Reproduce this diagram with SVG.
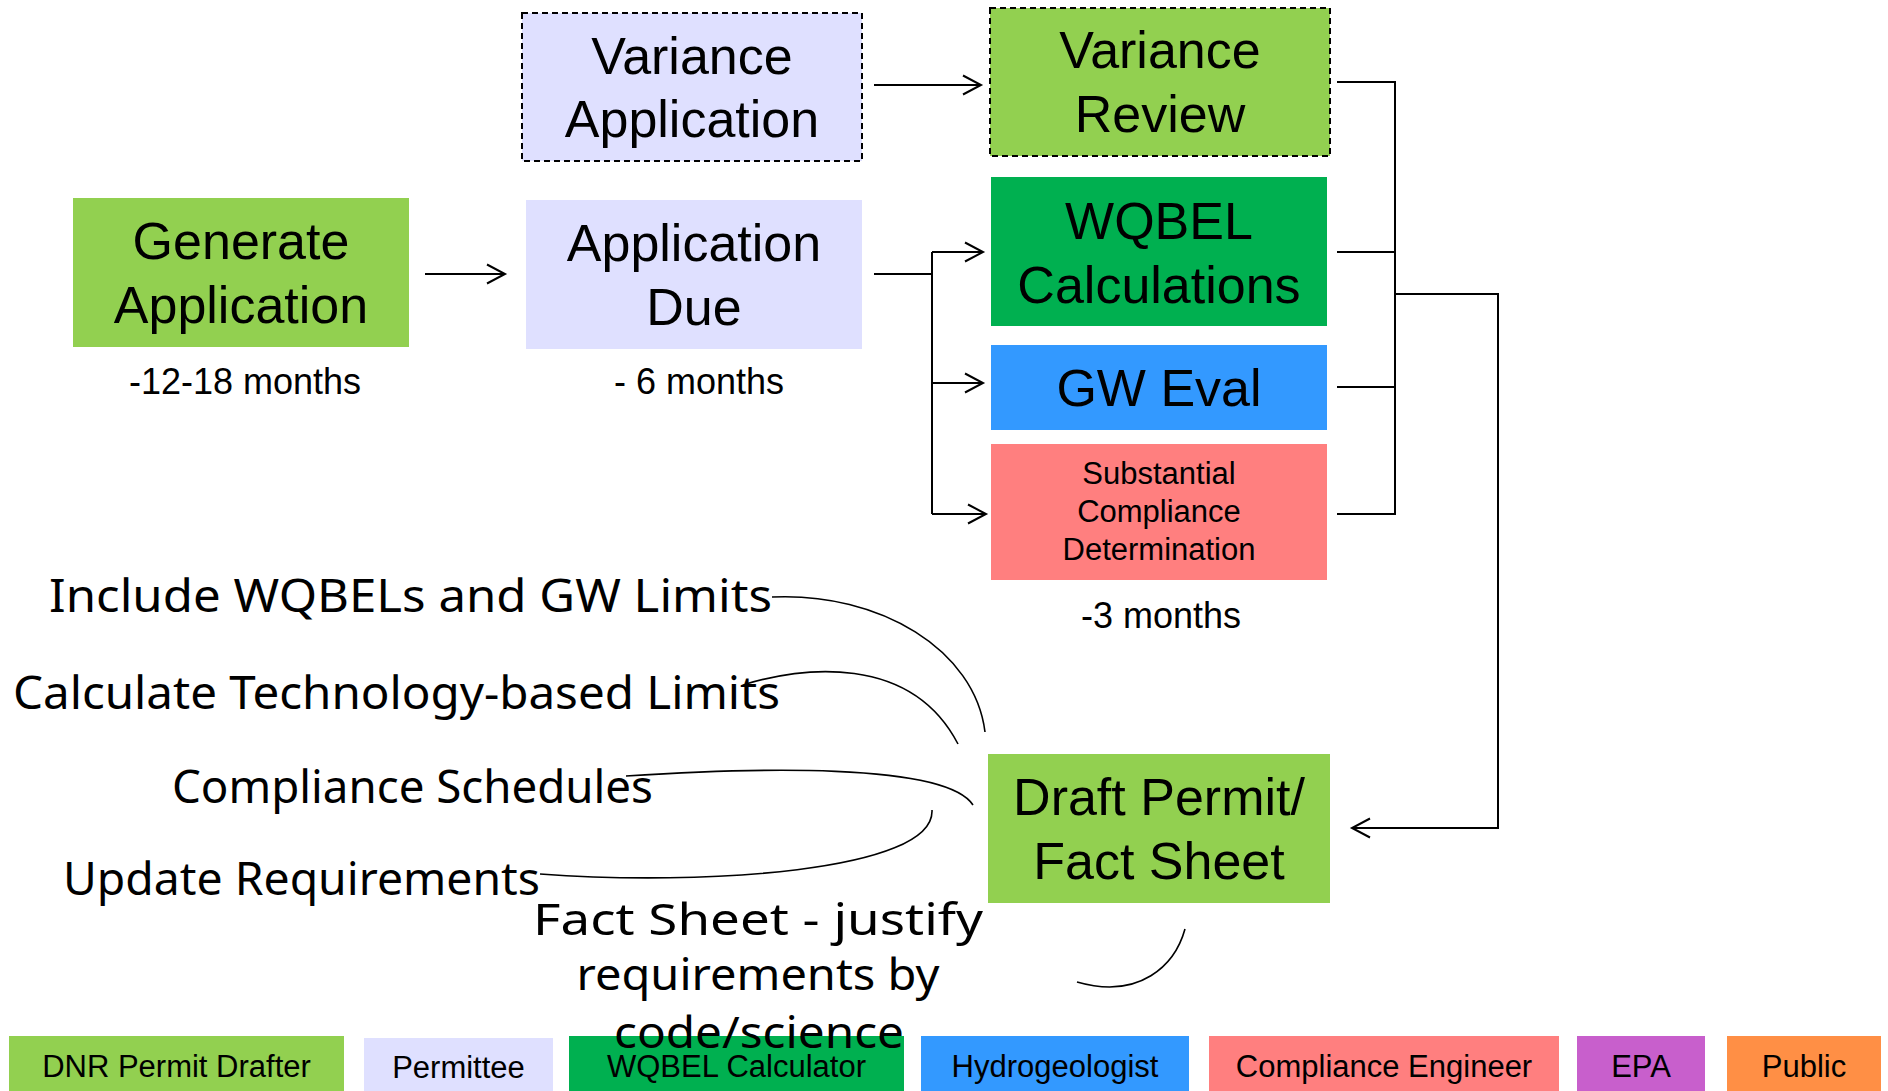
<svg xmlns="http://www.w3.org/2000/svg" width="1888" height="1091" viewBox="0 0 1888 1091">
<defs>
<style>
.box{stroke:none}
.dash{stroke:#000;stroke-width:2;stroke-dasharray:6 4}
.t52{font-family:"Liberation Sans",Arial,sans-serif;font-size:52px;text-anchor:middle;fill:#000}
.t37{font-family:"Liberation Sans",Arial,sans-serif;font-size:36px;text-anchor:middle;fill:#000}
.t31{font-family:"Liberation Sans",Arial,sans-serif;font-size:31px;text-anchor:middle;fill:#000}
.leg{font-family:"Liberation Sans",Arial,sans-serif;font-size:31px;text-anchor:middle;fill:#000}
.hw{font-family:"Comic Sans MS","Noto Sans",sans-serif;font-size:46px;fill:#000}
.hwc{font-family:"Comic Sans MS","Noto Sans",sans-serif;font-size:44px;fill:#000;text-anchor:middle}
.ln{fill:none;stroke:#000;stroke-width:2}
.cv{fill:none;stroke:#000;stroke-width:1.6}
</style>
<marker id="arr" markerUnits="userSpaceOnUse" markerWidth="24" markerHeight="24" refX="20" refY="11" orient="auto">
<path d="M2,1.5 L20,11 L2,20.5" fill="none" stroke="#000" stroke-width="2"/>
</marker>
</defs>
<rect width="1888" height="1091" fill="#fff"/>

<g id="connectors">
<path class="ln" d="M425 274 H505" marker-end="url(#arr)"/>
<path class="ln" d="M874 85 H981" marker-end="url(#arr)"/>
<path class="ln" d="M874 274 H932"/>
<path class="ln" d="M932 252 V514"/>
<path class="ln" d="M932 252 H983" marker-end="url(#arr)"/>
<path class="ln" d="M932 383 H983" marker-end="url(#arr)"/>
<path class="ln" d="M932 514 H986" marker-end="url(#arr)"/>
<path class="ln" d="M1337 82 H1395 M1337 252 H1395 M1337 387 H1395 M1337 514 H1395"/>
<path class="ln" d="M1395 81 V515"/>
<path class="ln" d="M1395 294 H1498 V828 H1352" marker-end="url(#arr)"/>
<path class="cv" d="M772 597 C880 592 975 650 985 732"/>
<path class="cv" d="M746 684 C800 668 910 652 958 744"/>
<path class="cv" d="M626 776 C750 768 945 762 973 805"/>
<path class="cv" d="M540 874 C700 886 935 872 932 810"/>
<path class="cv" d="M1185 929 C1175 965 1140 1000 1077 982"/>
</g>

<g id="variance-application">
<rect x="522" y="13" width="340" height="148" fill="#DFE0FF" class="dash"/>
<text class="t52" x="692" y="74">Variance</text>
<text class="t52" x="692" y="137">Application</text>
</g>

<g id="generate-application">
<rect x="73" y="198" width="336" height="149" fill="#92D050"/>
<text class="t52" x="241" y="259">Generate</text>
<text class="t52" x="241" y="323">Application</text>
<text class="t37" x="245" y="394">-12-18 months</text>
</g>

<g id="application-due">
<rect x="526" y="200" width="336" height="149" fill="#DFE0FF"/>
<text class="t52" x="694" y="261">Application</text>
<text class="t52" x="694" y="325">Due</text>
<text class="t37" x="699" y="394">- 6 months</text>
</g>

<g id="variance-review">
<rect x="990" y="8" width="340" height="148" fill="#92D050" class="dash"/>
<text class="t52" x="1160" y="68">Variance</text>
<text class="t52" x="1160" y="132">Review</text>
</g>

<g id="wqbel-calculations">
<rect x="991" y="177" width="336" height="149" fill="#00B050"/>
<text class="t52" x="1159" y="239">WQBEL</text>
<text class="t52" x="1159" y="303">Calculations</text>
</g>

<g id="gw-eval">
<rect x="991" y="345" width="336" height="85" fill="#3399FF"/>
<text class="t52" x="1159" y="406">GW Eval</text>
</g>

<g id="substantial-compliance">
<rect x="991" y="444" width="336" height="136" fill="#FF7F7F"/>
<text class="t31" x="1159" y="484">Substantial</text>
<text class="t31" x="1159" y="522">Compliance</text>
<text class="t31" x="1159" y="560">Determination</text>
<text class="t37" x="1161" y="628">-3 months</text>
</g>

<g id="draft-permit">
<rect x="988" y="754" width="342" height="149" fill="#92D050"/>
<text class="t52" x="1159" y="815">Draft Permit/</text>
<text class="t52" x="1159" y="879">Fact Sheet</text>
</g>

<g id="legend">
<rect x="9" y="1036" width="335" height="60" fill="#92D050"/>
<text class="leg" x="176.5" y="1077">DNR Permit Drafter</text>
<rect x="364" y="1038" width="189" height="58" fill="#DFE0FF"/>
<text class="leg" x="458.5" y="1078">Permittee</text>
<rect x="569" y="1036" width="335" height="60" fill="#00B050"/>
<text class="leg" x="736.5" y="1077">WQBEL Calculator</text>
<rect x="921" y="1036" width="268" height="60" fill="#3399FF"/>
<text class="leg" x="1055" y="1077">Hydrogeologist</text>
<rect x="1209" y="1036" width="350" height="60" fill="#FF7F7F"/>
<text class="leg" x="1384" y="1077">Compliance Engineer</text>
<rect x="1577" y="1036" width="128" height="60" fill="#C85FCC"/>
<text class="leg" x="1641" y="1077">EPA</text>
<rect x="1727" y="1036" width="154" height="60" fill="#FF8F45"/>
<text class="leg" x="1804" y="1077">Public</text>
</g>

<g id="annotations">
<text class="hw" x="49" y="612" textLength="723" lengthAdjust="spacingAndGlyphs">Include WQBELs and GW Limits</text>
<text class="hw" x="13" y="709" textLength="767" lengthAdjust="spacingAndGlyphs">Calculate Technology-based Limits</text>
<text class="hw" x="172" y="803" textLength="481" lengthAdjust="spacingAndGlyphs">Compliance Schedules</text>
<text class="hw" x="63" y="895" textLength="477" lengthAdjust="spacingAndGlyphs">Update Requirements</text>
<text class="hwc" x="758" y="935" textLength="450" lengthAdjust="spacingAndGlyphs">Fact Sheet - justify</text>
<text class="hwc" x="758" y="990" textLength="363" lengthAdjust="spacingAndGlyphs">requirements by</text>
<text class="hwc" x="759" y="1048" textLength="290" lengthAdjust="spacingAndGlyphs">code/science</text>
</g>
</svg>
